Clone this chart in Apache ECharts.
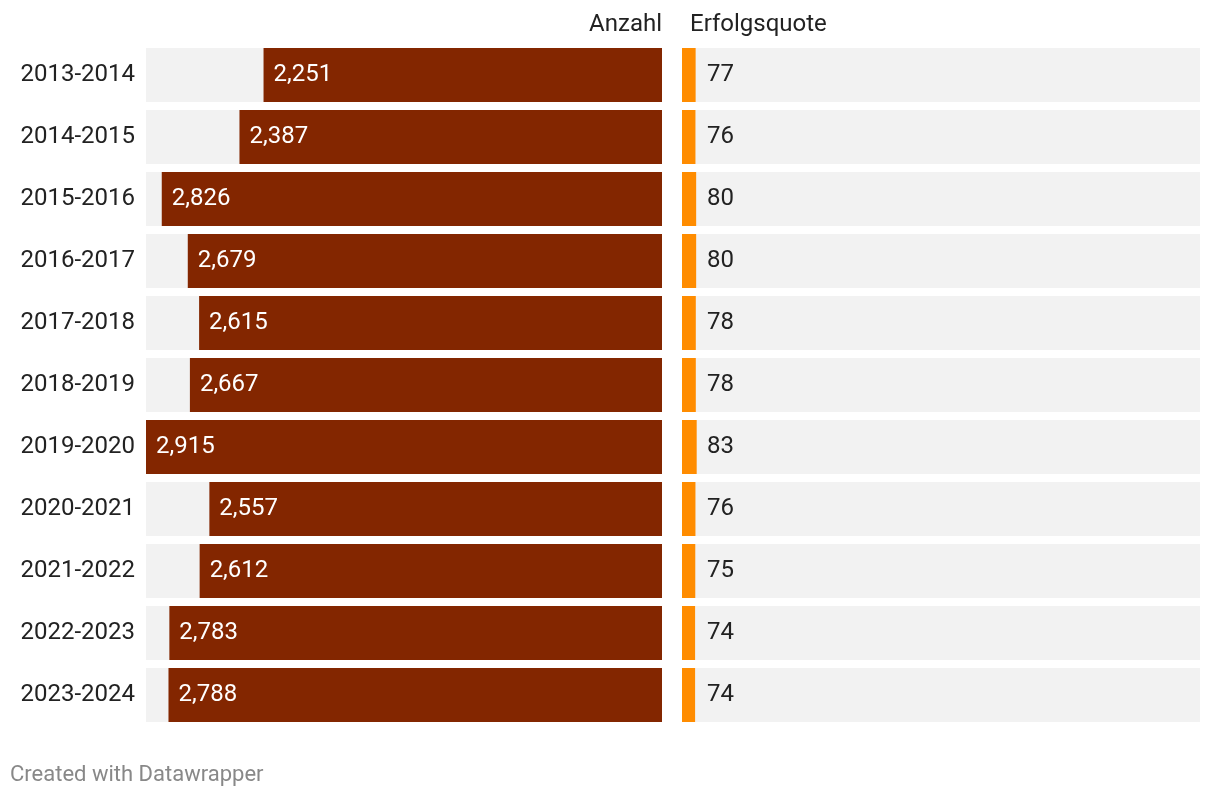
<!DOCTYPE html>
<html><head><meta charset="utf-8">
<script src="https://cdn.jsdelivr.net/npm/echarts@6/dist/echarts.min.js"></script>
<style>html,body{margin:0;padding:0;background:#fff}#c{width:1220px;height:798px}</style>
</head><body><div id="c"></div>
<script>
const categories = ['2013-2014','2014-2015','2015-2016','2016-2017','2017-2018','2018-2019','2019-2020','2020-2021','2021-2022','2022-2023','2023-2024'];
const anzahl = [2251,2387,2826,2679,2615,2667,2915,2557,2612,2783,2788];
const quote = [77,76,80,80,78,78,83,76,75,74,74];
const headers = ['Anzahl','Erfolgsquote'];
const footer = 'Created with Datawrapper';

const FONT = 'Roboto';
const chart = echarts.init(document.getElementById('c'), null, {renderer:'canvas'});
const maxL = 2915;
const maxR = maxL * 518 / 516;
const fmt = v => v.toLocaleString('en-US');
chart.setOption({
  animation:false,
  grid:[
    {left:146, width:516, top:44, height:682, containLabel:false},
    {left:682, width:518, top:44, height:682, containLabel:false}
  ],
  xAxis:[
    {gridIndex:0, type:'value', min:0, max:maxL, inverse:true, show:false},
    {gridIndex:1, type:'value', min:0, max:maxR, show:false}
  ],
  yAxis:[
    {gridIndex:0, type:'category', data:categories, inverse:true,
     axisLine:{show:false}, axisTick:{show:false}, splitLine:{show:false},
     axisLabel:{fontFamily:FONT, fontSize:24, color:'#222', margin:11}},
    {gridIndex:1, type:'category', data:categories, inverse:true, show:false}
  ],
  series:[
    {type:'bar', xAxisIndex:0, yAxisIndex:0, data:anzahl, barWidth:54,
     itemStyle:{color:'#832600'}, showBackground:true, backgroundStyle:{color:'#f2f2f2'},
     label:{show:true, position:'insideLeft', distance:10, color:'#fff', fontFamily:FONT, fontSize:24,
       formatter:p=>fmt(p.value)}},
    {type:'bar', xAxisIndex:1, yAxisIndex:1, data:quote, barWidth:54,
     itemStyle:{color:'#ff8c00'}, showBackground:true, backgroundStyle:{color:'#f2f2f2'},
     label:{show:true, position:[25,27], verticalAlign:'middle', align:'left', color:'#222', fontFamily:FONT, fontSize:24}}
  ],
  graphic:[
    {type:'text', right:1220-662, top:13, style:{text:headers[0], font:'24px Roboto', fill:'#222', textAlign:'right'}},
    {type:'text', left:690, top:13, style:{text:headers[1], font:'24px Roboto', fill:'#222'}},
    {type:'text', left:10, top:764, style:{text:footer, font:'22px Roboto', fill:'#888'}}
  ]
});
</script></body></html>
